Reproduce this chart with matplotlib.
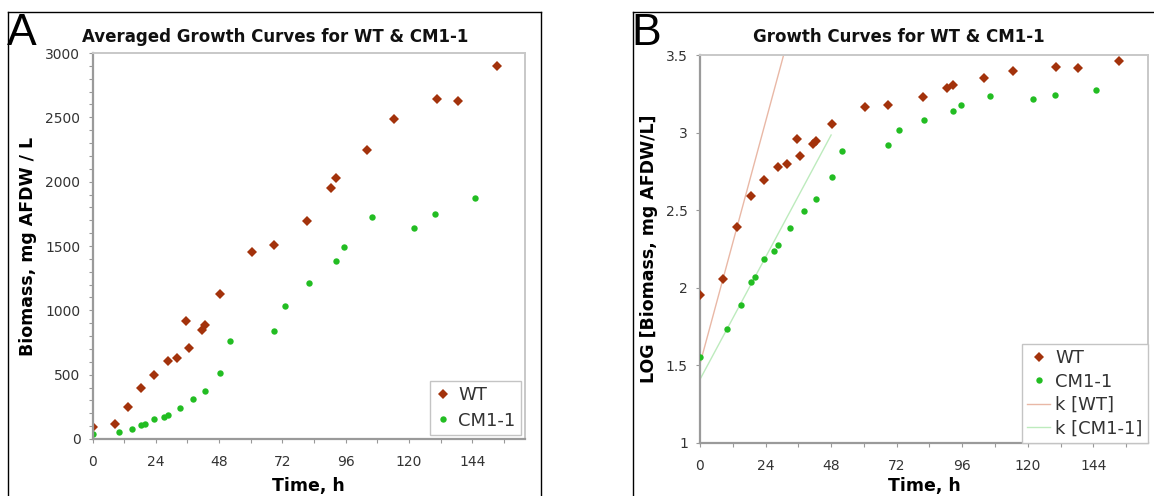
import matplotlib
matplotlib.use("Agg")
import matplotlib.pyplot as plt
import numpy as np
from matplotlib.lines import Line2D
from matplotlib.ticker import MultipleLocator

# ---- data: averaged biomass (mg AFDW / L) versus time (h) ----
wt_time = [0, 8.5, 13.5, 18.5, 23.5, 28.5, 32, 35.5, 36.5, 41.5, 42.5, 48.5,
           60.5, 69, 81.5, 90.5, 92.5, 104, 114.5, 130.5, 138.5, 153.5]
wt_biomass = [90, 114, 246, 393, 497, 603, 626, 915, 706, 848, 887, 1130,
              1453, 1508, 1694, 1950, 2027, 2250, 2488, 2645, 2625, 2899]

cm_time = [0, 10, 15, 18.5, 20, 23.5, 27, 28.5, 33, 38, 42.5, 48.5,
           52, 69, 73, 82, 92.5, 95.5, 106, 122, 130, 145]
cm_biomass = [36, 54, 78, 109, 118, 153, 172, 190, 244, 311, 375, 514,
              760, 837, 1035, 1210, 1380, 1495, 1728, 1640, 1748, 1872]

# exponential-phase fits on the log scale: intercept, slope (per h), time span
wt_fit_intercept, wt_fit_slope, wt_fit_span = 1.51, 0.065, (0, 31)
cm_fit_intercept, cm_fit_slope, cm_fit_span = 1.41, 0.0328, (0, 48)

series_names = ["WT", "CM1-1"]
fit_names = ["k [WT]", "k [CM1-1]"]
time_ticks = [0, 24, 48, 72, 96, 120, 144]

# ---- styling ----
WT_COLOR = "#A3320B"
CM_COLOR = "#22BD22"
WT_FIT_COLOR = "#E9B8A6"
CM_FIT_COLOR = "#BDEBBD"
TEXT_COLOR = "#333333"
MARKER_SIZE = 4.6

W, H = 1154, 496
fig = plt.figure(figsize=(W / 100, H / 100), dpi=100)
fig.patch.set_facecolor("white")


def axes_at(left, top, right, bottom):
    return fig.add_axes([left / W, 1 - bottom / H, (right - left) / W, (bottom - top) / H])


def style_axes(ax):
    for side in ("left", "bottom"):
        ax.spines[side].set_color("#9a9a9a")
        ax.spines[side].set_linewidth(1.6)
    for side in ("top", "right"):
        ax.spines[side].set_color("#c8c8c8")
        ax.spines[side].set_linewidth(1.4)
    ax.tick_params(which="both", direction="out", length=3.2, width=0.8,
                   color="#999999", labelcolor=TEXT_COLOR, labelsize=10,
                   top=False, right=False)
    ax.tick_params(axis="x", which="both", pad=8)
    ax.tick_params(axis="y", which="both", pad=5.5)
    ax.set_xlim(0, 164)
    ax.set_xticks(time_ticks)
    ax.xaxis.set_minor_locator(MultipleLocator(12))


def frame_lines(x_left, x_right, y_top, right_side=True):
    fx = lambda v: v / W
    fy = lambda v: 1 - v / H
    fig.add_artist(Line2D([fx(x_left), fx(x_right)], [fy(y_top), fy(y_top)],
                          transform=fig.transFigure, color="black", lw=1.0))
    fig.add_artist(Line2D([fx(x_left), fx(x_left)], [fy(y_top), fy(H + 2)],
                          transform=fig.transFigure, color="black", lw=1.0))
    if right_side:
        fig.add_artist(Line2D([fx(x_right), fx(x_right)], [fy(y_top), fy(H + 2)],
                              transform=fig.transFigure, color="black", lw=1.0))


# ---- panel A: linear biomass ----
axA = axes_at(92.5, 53, 525, 439)
style_axes(axA)
axA.plot(wt_time, wt_biomass, linestyle="none", marker="D", markersize=MARKER_SIZE,
         color=WT_COLOR, markeredgewidth=0, label=series_names[0])
axA.plot(cm_time, cm_biomass, linestyle="none", marker="o", markersize=MARKER_SIZE,
         color=CM_COLOR, markeredgewidth=0, label=series_names[1])
axA.set_ylim(0, 3000)
axA.yaxis.set_major_locator(MultipleLocator(500))
axA.yaxis.set_minor_locator(MultipleLocator(100))
axA.set_ylabel("Biomass, mg AFDW / L", fontsize=12.5, fontweight="bold",
               color="black", va="center")
axA.yaxis.set_label_coords((28 - 92.5) / 432.5, 0.5)
axA.set_xlabel("Time, h", fontsize=12.5, fontweight="bold", color="black", va="center")
axA.xaxis.set_label_coords(0.5, (9.5 - 57) / 386)
legA = axA.legend(loc="lower right", bbox_to_anchor=(0.991, 0.0104), borderaxespad=0,
                  fontsize=13, frameon=True, fancybox=False, framealpha=1,
                  edgecolor="#c4c4c4", handlelength=0.8, handletextpad=0.45,
                  borderpad=0.3, labelspacing=0.4, markerscale=1.0)
legA.get_frame().set_linewidth(1.0)
for t in legA.get_texts():
    t.set_color(TEXT_COLOR)

# ---- panel B: log10 biomass with exponential-phase fits ----
axB = axes_at(700, 55, 1148, 443)
style_axes(axB)
wt_log = np.log10(wt_biomass)
cm_log = np.log10(cm_biomass)
axB.plot(wt_time, wt_log, linestyle="none", marker="D", markersize=MARKER_SIZE,
         color=WT_COLOR, markeredgewidth=0, label=series_names[0], zorder=3)
axB.plot(cm_time, cm_log, linestyle="none", marker="o", markersize=MARKER_SIZE,
         color=CM_COLOR, markeredgewidth=0, label=series_names[1], zorder=3)
wt_fit_t = np.array(wt_fit_span, dtype=float)
cm_fit_t = np.array(cm_fit_span, dtype=float)
axB.plot(wt_fit_t, wt_fit_intercept + wt_fit_slope * wt_fit_t, color=WT_FIT_COLOR,
         lw=1.0, label=fit_names[0], zorder=2)
axB.plot(cm_fit_t, cm_fit_intercept + cm_fit_slope * cm_fit_t, color=CM_FIT_COLOR,
         lw=1.0, label=fit_names[1], zorder=2)
axB.set_ylim(1, 3.5)
axB.set_yticks([1, 1.5, 2, 2.5, 3, 3.5])
axB.set_yticklabels(["1", "1.5", "2", "2.5", "3", "3.5"])
axB.set_ylabel("LOG [Biomass, mg AFDW/L]", fontsize=12.5, fontweight="bold",
               color="black", va="center")
axB.yaxis.set_label_coords((649.5 - 700) / 448, 0.5)
axB.set_xlabel("Time, h", fontsize=12.5, fontweight="bold", color="black", va="center")
axB.xaxis.set_label_coords(0.5, (9.5 - 53) / 388)
legB = axB.legend(loc="lower right", bbox_to_anchor=(1.0, 0.0), borderaxespad=0,
                  fontsize=13, frameon=True, fancybox=False, framealpha=1,
                  edgecolor="#c4c4c4", handlelength=1.25, handletextpad=0.3,
                  borderpad=0.3, labelspacing=0.3)
legB.get_frame().set_linewidth(1.0)
for t in legB.get_texts():
    t.set_color(TEXT_COLOR)

# ---- titles, panel letters and frames ----
fig.text(275 / W, 1 - 37 / H, "Averaged Growth Curves for WT & CM1-1",
         ha="center", va="center", fontsize=12, fontweight="bold", color="#111111")
fig.text(899 / W, 1 - 37 / H, "Growth Curves for WT & CM1-1",
         ha="center", va="center", fontsize=12, fontweight="bold", color="#111111")

fig.text(7 / W, 1 - 45 / H, "A", family="Liberation Sans", fontsize=32,
         ha="left", va="baseline", color="black")
fig.text(631 / W, 1 - 45 / H, "B", family="Liberation Sans", fontsize=32,
         ha="left", va="baseline", color="black")

frame_lines(8, 541, 12, right_side=True)
frame_lines(633, W + 2, 12, right_side=False)

fig.savefig("out.png", dpi=100, facecolor="white")
